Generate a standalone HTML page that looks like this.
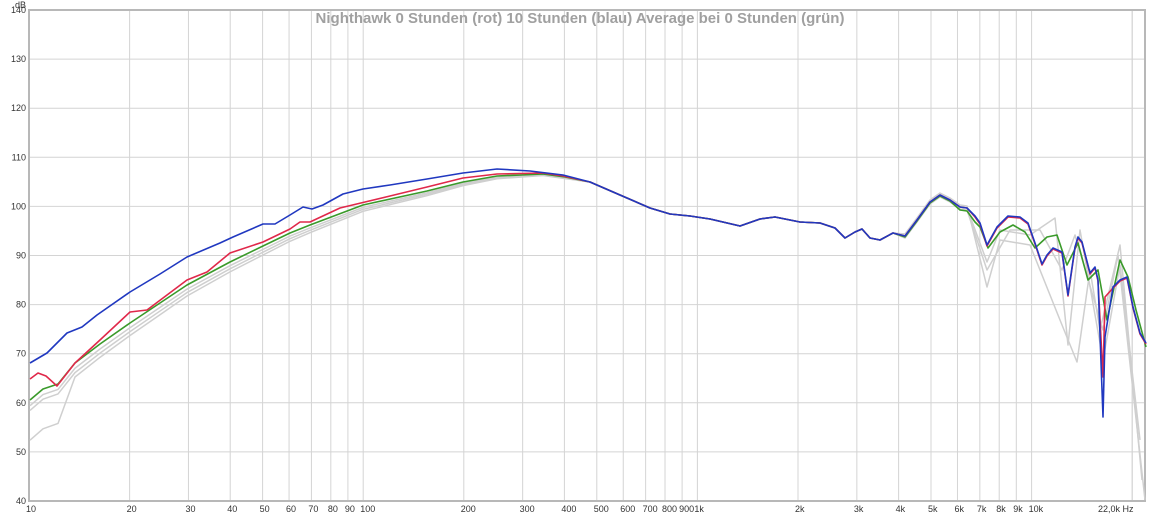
<!DOCTYPE html>
<html><head><meta charset="utf-8"><style>
body{margin:0;background:#fff;width:1160px;height:516px;overflow:hidden;font-family:"Liberation Sans",sans-serif}
</style></head><body>
<svg id="s" width="1160" height="516" xmlns="http://www.w3.org/2000/svg" font-family="Liberation Sans, sans-serif">
<rect x="0" y="0" width="1160" height="516" fill="#fff"/>
<g id="grid" stroke="#d4d4d4" stroke-width="1"></g>
<g id="labels" font-size="9" fill="#333"></g>
<rect x="29" y="10" width="1116" height="491" fill="none" stroke="#b8b8b8" stroke-width="2"/>
<text x="580" y="23" text-anchor="middle" font-size="15" font-weight="bold" fill="#a0a0a0">Nighthawk 0 Stunden (rot) 10 Stunden (blau) Average bei 0 Stunden (grün)</text>
<text x="15" y="8" font-size="9" fill="#333">dB</text>
<text x="1098" y="512" font-size="9" fill="#333">22,0k Hz</text>
<g id="curves" fill="none" stroke-width="1.6" stroke-linejoin="round"></g>
</svg>
<script>
var NS="http://www.w3.org/2000/svg";
function X(f){return 29+Math.log10(f/10)*334.2;}
function Y(d){return 501-(d-40)*4.91;}
var g=document.getElementById('grid'),L=document.getElementById('labels');
function el(p,t,a,txt){var e=document.createElementNS(NS,t);for(var k in a)e.setAttribute(k,a[k]);if(txt)e.textContent=txt;p.appendChild(e);return e;}
for(var d=50;d<140;d+=10){el(g,'line',{x1:29,x2:1145,y1:Y(d),y2:Y(d)});}
for(var d=40;d<=140;d+=10){el(L,'text',{x:26,y:Y(d)+3,'text-anchor':'end'},''+d);}
var fl=[];for(var dec=10;dec<=10000;dec*=10)for(var m=1;m<10;m++){var f=dec*m;if(f>10&&f<22000)fl.push(f);}
fl.push(20000);
fl.forEach(function(f){el(g,'line',{x1:X(f),x2:X(f),y1:10,y2:501});});
var lab={10:'10',20:'20',30:'30',40:'40',50:'50',60:'60',70:'70',80:'80',90:'90',100:'100',200:'200',300:'300',400:'400',500:'500',600:'600',700:'700',800:'800',900:'900',1000:'1k',2000:'2k',3000:'3k',4000:'4k',5000:'5k',6000:'6k',7000:'7k',8000:'8k',9000:'9k',10000:'10k'};
for(var f in lab){el(L,'text',{x:X(+f)-3,y:512},lab[f]);}
var mid=[[590,182],[620,195],[650,208],[670,214],[690,216],[710,219],[740,226],[760,219],[775,217],[800,222],[820,223],[835,228],[845,238],[855,232],[862,229],[870,238],[880,240],[893,233],[905,236],[917,220],[930,202],[940,195],[950,200],[960,207],[967,208]];
var blueHi=[[975,216],[980,223],[987,245],[997,227],[1008,216],[1020,217],[1028,223],[1035,243],[1042,264],[1047,255],[1053,248],[1062,252],[1068,295],[1075,247],[1078,237],[1082,242],[1090,273],[1095,267],[1098,280],[1103,417],[1105,337],[1113,287],[1120,280],[1127,277],[1133,307],[1140,333],[1146,343]];
var greenHi=[[975,222],[980,227],[988,248],[1000,232],[1013,225],[1025,232],[1035,248],[1047,237],[1057,235],[1067,265],[1078,243],[1088,280],[1098,270],[1107,320],[1120,260],[1128,277],[1136,310],[1146,347]];
var blue=[[30,363],[47,353],[67,333],[82,327],[97,315],[130,292],[160,274],[187,257],[220,243],[233,237],[263,224],[275,224],[290,215],[303,207],[312,209],[323,205],[343,194],[363,189],[390,185],[427,179],[463,173],[497,169],[530,171],[563,175]].concat(mid,blueHi);
var red=[[30,379],[38,373],[46,376],[57,386],[75,363],[100,340],[130,312],[147,310],[187,280],[207,272],[230,253],[263,242],[290,229],[300,222],[310,222],[340,208],[390,196],[427,187],[463,178],[497,174],[543,173],[563,176]].concat(mid,blueHi.map(function(p){return [p[0],p[1]+(p[0]>1100&&p[0]<1110?-40:1)];}));
var green=[[30,400],[43,389],[58,384],[75,363],[100,344],[130,323],[160,303],[187,285],[230,262],[263,246],[290,233],[310,225],[363,205],[427,191],[463,182],[497,176],[543,174],[565,177]].concat(mid.map(function(p){return [p[0],p[1]+(p[0]>950?3:(p[0]>900?1:0))];}),greenHi);
function poly(pts,c,w){el(document.getElementById('curves'),'polyline',{points:pts.map(function(p){return p.join(',')}).join(' '),stroke:c,'stroke-width':w||1.6});}
var gdef=[[6,[[987,287],[1000,240],[1030,245],[1060,320],[1077,362],[1090,270],[1100,330],[1120,245],[1142,480]]],[11,[[987,262],[1000,230],[1030,235],[1055,218],[1068,345],[1080,230],[1103,360],[1120,265],[1140,440]]],[16,[[987,270],[1010,230],[1040,230],[1062,270],[1075,235],[1103,330],[1118,255],[1145,500]]]];
gdef.forEach(function(gd,i){var o=gd[0];var b=green.filter(function(p){return p[0]<560}).map(function(p){return [p[0],p[1]+o*(1-p[0]/600)+(i==2&&p[0]<60?25:0)];});
var m=mid.map(function(p){return [p[0],p[1]+(p[0]>900?(i-1)*2:0)];});
poly(b.concat(m,gd[1]),'#cfcfcf',1.5);});
poly(green,'#3a9a2a');poly(red,'#e0284a');poly(blue,'#2038c0');
</script>
</body></html>
